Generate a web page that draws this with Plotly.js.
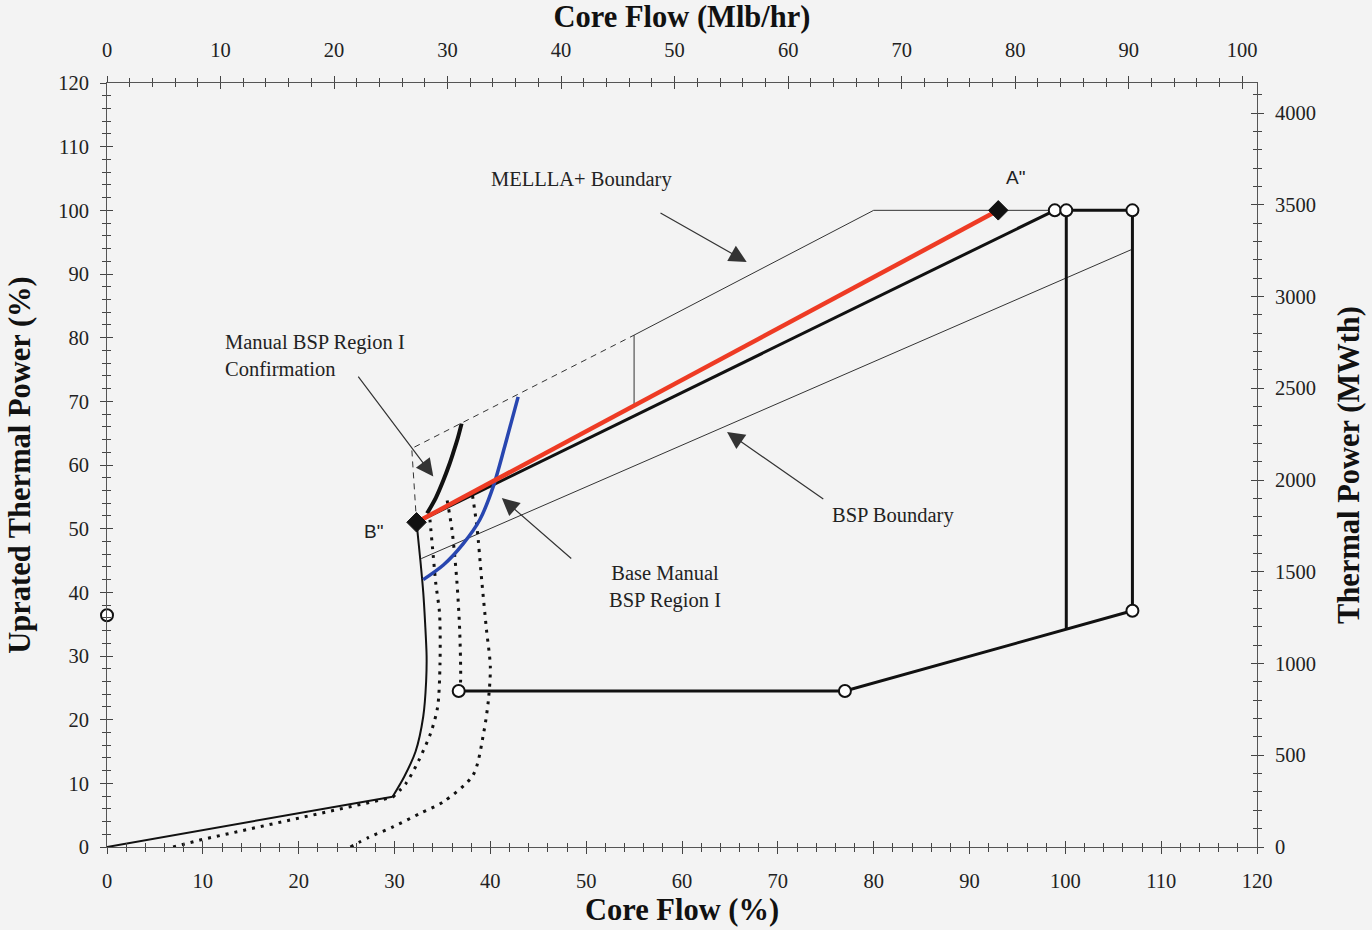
<!DOCTYPE html>
<html>
<head>
<meta charset="utf-8">
<script src="https://cdn.plot.ly/plotly-3.0.1.min.js"></script>
<style>html,body{margin:0;padding:0;background:#f3f3f3;}#chart{width:1372px;height:930px;}</style>
</head>
<body>
<div id="chart"></div>
<script>
// ---- Data (Core Flow %, Uprated Thermal Power %) ----
const natCircFlow  = [0, 29.8, 31.0, 32.2, 33.0, 33.3, 33.35, 33.2, 33.0, 32.7, 32.3];
const natCircPower = [0, 7.9, 11, 15, 20.5, 26, 30, 35, 40, 45, 51];

const dot1Flow  = [6.9, 9.7, 16.0, 22.2, 27.1, 29.8, 31.2, 32.5, 33.8, 34.5, 34.75, 34.7, 34.3, 34.05, 33.7];
const dot1Power = [0, 1.1, 3.2, 5.3, 6.9, 7.8, 10.0, 13.5, 18.0, 22.0, 28.9, 36.7, 41.5, 45.6, 51.4];

const dot2Flow  = [36.8, 36.9, 36.8, 36.5, 36.0, 35.45];
const dot2Power = [24.4, 26.2, 34.1, 41.9, 49.8, 54.8];

const dot3Flow  = [25.4, 27.3, 29.9, 32.7, 35.1, 38.2, 39.3, 39.8, 40.0, 39.6, 39.1, 38.6, 38.05];
const dot3Power = [0, 1.5, 3.2, 5.3, 7.1, 11.3, 17.9, 23.1, 28.3, 34.1, 41.9, 50.3, 56.1];

const confirmFlow  = [33.4, 34.3, 35.1, 35.7, 36.1, 36.6, 37.0];
const confirmPower = [52.4, 54.8, 57.6, 60.0, 61.8, 64.2, 66.5];

const baseFlow  = [33.0, 35.1, 37.2, 38.9, 40.3, 41.5, 42.9];
const basePower = [42.0, 44.3, 47.7, 51.4, 56.6, 62.9, 70.7];

const redFlow  = [32.3, 93.0];
const redPower = [51, 100];

const rodFlow  = [32.3, 98.9];
const rodPower = [51, 100];

const mellaDashFlow  = [32.3, 31.8, 55.0];
const mellaDashPower = [51, 62.6, 80.4];
const mellaFlow  = [55.0, 55.0, 80.0, 98.9];
const mellaPower = [69.2, 80.4, 100, 100];

const bspFlow  = [32.8, 107.0];
const bspPower = [45.3, 93.9];

const boxTopFlow  = [98.9, 107.0, 107.0];
const boxTopPower = [100, 100, 37.1];
const boxMidFlow  = [100.1, 100.1];
const boxMidPower = [100, 34.2];
const boxLowFlow  = [36.7, 77.0, 107.0];
const boxLowPower = [24.5, 24.5, 37.1];

const circleFlow  = [98.9, 100.1, 107.0, 107.0, 77.0, 36.7, 0];
const circlePower = [100, 100, 100, 37.1, 24.5, 24.5, 36.4];

const diamondFlow  = [93.0, 32.3];
const diamondPower = [100, 51];
const pointLabels  = ['A"', 'B"'];

// axis ranges
const flowRange = [0, 120];
const powerRange = [0, 120];
const mlbRange = [0, 101.3];
const mwthRange = [0, 4164];

const serif = 'Liberation Serif, Times New Roman, serif';
const sans = 'Liberation Sans, Arial, sans-serif';

function line(x, y, color, width, dash, spline) {
  return {x: x, y: y, type: 'scatter', mode: 'lines', hoverinfo: 'skip',
          line: {color: color, width: width, dash: dash || 'solid',
                 shape: spline ? 'spline' : 'linear', smoothing: 0.8}};
}
function axisHolder(xa, ya, xr, yr) {
  return {x: xr, y: yr, xaxis: xa, yaxis: ya, type: 'scatter', mode: 'markers',
          marker: {opacity: 0, size: 1}, hoverinfo: 'skip', showlegend: false};
}

const data = [
  axisHolder('x2', 'y', mlbRange, powerRange),
  axisHolder('x3', 'y', flowRange, powerRange),
  axisHolder('x4', 'y', mlbRange, powerRange),
  axisHolder('x', 'y2', flowRange, mwthRange),
  axisHolder('x', 'y3', flowRange, powerRange),
  axisHolder('x', 'y4', flowRange, mwthRange),
  line(mellaDashFlow, mellaDashPower, '#333', 1, '6px,5px'),
  line(mellaFlow, mellaPower, '#333', 1),
  line(bspFlow, bspPower, '#333', 1),
  line(natCircFlow.slice(0, 2), natCircPower.slice(0, 2), '#111', 2),
  line(natCircFlow.slice(1), natCircPower.slice(1), '#111', 2, null, true),
  line(dot1Flow.slice(0, 6), dot1Power.slice(0, 6), '#111', 3, '3px,6px'),
  line(dot1Flow.slice(5), dot1Power.slice(5), '#111', 3, '3px,6px', true),
  line(dot2Flow, dot2Power, '#111', 3, '3px,6px', true),
  line(dot3Flow, dot3Power, '#111', 3, '3px,6px', true),
  line(rodFlow, rodPower, '#111', 3),
  line(confirmFlow, confirmPower, '#111', 4, null, true),
  line(baseFlow, basePower, '#2846b0', 3.5, null, true),
  line(redFlow, redPower, '#ee3b24', 4.5),
  line(boxTopFlow, boxTopPower, '#111', 3),
  line(boxMidFlow, boxMidPower, '#111', 3),
  line(boxLowFlow, boxLowPower, '#111', 3),
  {x: circleFlow, y: circlePower, type: 'scatter', mode: 'markers', cliponaxis: false, hoverinfo: 'skip',
   marker: {symbol: 'circle', size: 12, color: '#ffffff', line: {color: '#111', width: 2}}},
  {x: diamondFlow, y: diamondPower, type: 'scatter', mode: 'markers', cliponaxis: false, hoverinfo: 'skip',
   text: pointLabels,
   marker: {symbol: 'diamond', size: 15, color: '#111', line: {color: '#111', width: 1}}}
];

const tickFont = {family: serif, size: 20.5, color: '#222'};
const titleFont = {family: serif, size: 30.5, color: '#111', weight: 'bold'};

function minorTicks(dir, dt) {
  return {ticks: dir, ticklen: 4, tickwidth: 1, tickcolor: '#444', dtick: dt, showgrid: false};
}
function mainAxis(extra) {
  return Object.assign({
    showgrid: false, zeroline: false, showline: true, linecolor: '#555', linewidth: 1,
    ticks: 'outside', ticklen: 6, tickwidth: 1, tickcolor: '#444', tickfont: tickFont,
    automargin: false, fixedrange: true, tick0: 0
  }, extra);
}
function innerAxis(extra) {
  return Object.assign({
    showgrid: false, zeroline: false, showline: false,
    ticks: 'inside', ticklen: 6, tickwidth: 1, tickcolor: '#444', showticklabels: false,
    automargin: false, fixedrange: true, tick0: 0
  }, extra);
}

const arrowStyle = {xref: 'x', yref: 'y', axref: 'x', ayref: 'y', text: '', showarrow: true,
  arrowhead: 2, arrowsize: 2.9, arrowwidth: 1.2, arrowcolor: '#333', standoff: 0, startstandoff: 0};

const layout = {
  width: 1372, height: 930,
  margin: {l: 107, r: 115, t: 83, b: 83},
  paper_bgcolor: '#f3f3f3', plot_bgcolor: '#f3f3f3',
  showlegend: false,
  xaxis: mainAxis({range: flowRange, dtick: 10, minor: minorTicks('outside', 2), ticklabelstandoff: 9,
    title: {text: 'Core Flow (%)', font: titleFont, standoff: 8}}),
  xaxis3: innerAxis({range: flowRange, overlaying: 'x', anchor: 'y', side: 'bottom', dtick: 10,
    minor: minorTicks('inside', 2)}),
  xaxis2: mainAxis({range: mlbRange, overlaying: 'x', anchor: 'y', side: 'top', dtick: 10,
    minor: minorTicks('outside', 2), ticklabelstandoff: 11,
    title: {text: 'Core Flow (Mlb/hr)', font: titleFont, standoff: 10}}),
  xaxis4: innerAxis({range: mlbRange, overlaying: 'x', anchor: 'y', side: 'top', dtick: 10,
    minor: minorTicks('inside', 2)}),
  yaxis: mainAxis({range: powerRange, dtick: 10, minor: minorTicks('outside', 2), ticklabelstandoff: 7,
    title: {text: 'Uprated Thermal Power (%)', font: titleFont, standoff: 18}}),
  yaxis3: innerAxis({range: powerRange, overlaying: 'y', anchor: 'x', side: 'left', dtick: 10,
    minor: minorTicks('inside', 2)}),
  yaxis2: mainAxis({range: mwthRange, overlaying: 'y', anchor: 'x', side: 'right', dtick: 500,
    minor: minorTicks('outside', 100), ticklabelstandoff: 7,
    title: {text: 'Thermal Power (MWth)', font: titleFont, standoff: 22}}),
  yaxis4: innerAxis({range: mwthRange, overlaying: 'y', anchor: 'x', side: 'right', dtick: 500,
    minor: minorTicks('inside', 100)}),
  annotations: [
    {x: 49.5, y: 104.8, xref: 'x', yref: 'y', text: 'MELLLA+ Boundary', showarrow: false,
     font: {family: serif, size: 20.5, color: '#222'}},
    {x: 12.1, y: 77.2, xref: 'x', yref: 'y', text: 'Manual BSP Region I<br>Confirmation', showarrow: false,
     xanchor: 'left', align: 'left', font: {family: serif, size: 20.5, color: '#222'}},
    {x: 58.2, y: 40.9, xref: 'x', yref: 'y', text: 'Base Manual<br>BSP Region I', showarrow: false,
     align: 'center', font: {family: serif, size: 20.5, color: '#222'}},
    {x: 82.0, y: 52.1, xref: 'x', yref: 'y', text: 'BSP Boundary', showarrow: false,
     font: {family: serif, size: 20.5, color: '#222'}},
    {x: 94.75, y: 105.2, xref: 'x', yref: 'y', text: pointLabels[0], showarrow: false,
     font: {family: sans, size: 19, color: '#222'}},
    {x: 27.8, y: 49.6, xref: 'x', yref: 'y', text: pointLabels[1], showarrow: false,
     font: {family: sans, size: 19, color: '#222'}},
    Object.assign({x: 66.75, y: 91.9, ax: 57.6, ay: 99.7}, arrowStyle),
    Object.assign({x: 34.05, y: 58.2, ax: 26.1, ay: 74.1}, arrowStyle),
    Object.assign({x: 41.2, y: 54.8, ax: 48.6, ay: 45.1}, arrowStyle),
    Object.assign({x: 64.7, y: 65.2, ax: 74.9, ay: 54.5}, arrowStyle)
  ]
};

Plotly.newPlot('chart', data, layout, {displayModeBar: false, staticPlot: true});
</script>
</body>
</html>
